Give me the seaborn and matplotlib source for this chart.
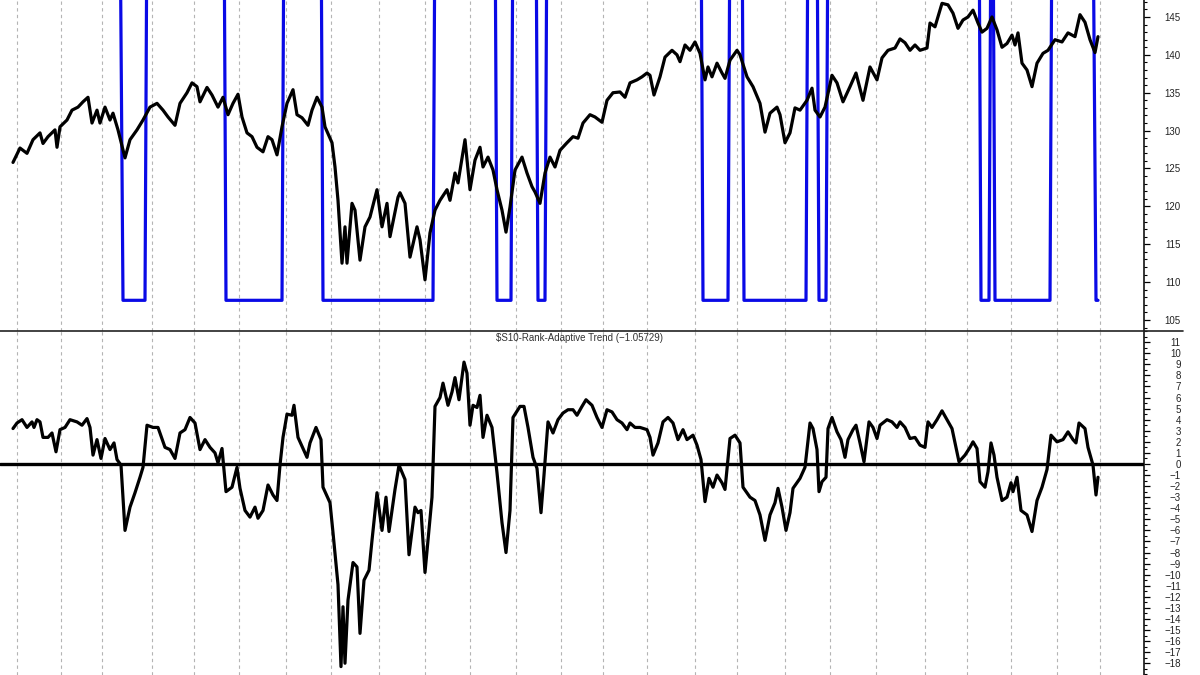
import matplotlib
matplotlib.use("Agg")
import matplotlib.pyplot as plt
from matplotlib.lines import Line2D
from matplotlib.ticker import MultipleLocator, FixedLocator
import seaborn as sns

# bar position along the chart and the price closes (upper pane)
price_bar = [13, 20, 27, 33, 40, 43, 48, 55, 57, 60, 67, 72, 78, 83, 88, 92, 97, 100, 105, 110,
             113, 118, 125, 130, 137, 143, 150, 157, 163, 168, 175, 180, 187, 192, 197, 200, 207, 212, 218, 223,
             228, 233, 238, 242, 247, 252, 257, 263, 268, 272, 277, 282, 287, 293, 297, 302, 308, 312, 317, 322,
             325, 332, 335, 338, 342, 345, 347, 352, 355, 360, 365, 370, 377, 382, 387, 390, 398, 400, 405, 410,
             417, 420, 425, 430, 435, 440, 447, 450, 455, 458, 465, 470, 475, 480, 483, 488, 493, 497, 502, 506,
             510, 515, 522, 527, 532, 535, 540, 545, 550, 555, 560, 567, 573, 578, 583, 590, 595, 602, 607, 613,
             620, 625, 630, 637, 642, 647, 650, 654, 660, 665, 672, 677, 680, 685, 690, 695, 700, 705, 708, 712,
             717, 722, 725, 730, 737, 740, 747, 753, 760, 765, 770, 777, 780, 785, 790, 795, 800, 807, 812, 815,
             820, 825, 832, 837, 843, 850, 856, 863, 870, 877, 882, 888, 895, 900, 905, 910, 915, 920, 927, 930,
             935, 942, 948, 953, 958, 963, 968, 973, 978, 982, 987, 992, 997, 1002, 1007, 1012, 1015, 1018, 1022, 1027,
             1032, 1037, 1043, 1048, 1055, 1062, 1068, 1075, 1080, 1085, 1090, 1095, 1098]
price = [125.8, 127.7, 127.0, 128.8, 129.7, 128.3, 129.2, 130.1, 127.8, 130.5, 131.4, 132.7, 133.1, 133.8, 134.4, 131.0, 132.7, 131.0, 133.1, 131.4,
         132.3, 130.1, 126.4, 128.8, 130.1, 131.4, 133.1, 133.6, 132.7, 131.8, 130.7, 133.6, 135.0, 136.3, 135.8, 133.8, 135.7, 134.7, 133.1, 134.4,
         132.1, 133.6, 134.8, 131.8, 129.7, 129.2, 127.8, 127.2, 129.2, 128.8, 126.8, 130.5, 133.6, 135.4, 132.1, 131.7, 130.7, 132.7, 134.4, 133.1,
         130.5, 128.4, 125.2, 120.8, 112.5, 117.3, 112.5, 120.4, 119.5, 112.9, 117.3, 118.6, 122.2, 117.3, 120.4, 116.0, 121.2, 121.8, 120.4, 113.3,
         117.3, 115.6, 110.3, 116.5, 119.5, 120.8, 122.2, 120.8, 124.4, 123.1, 128.8, 122.2, 126.1, 127.8, 125.2, 126.5, 124.8, 122.2, 119.5, 116.6,
         119.9, 124.8, 126.5, 124.4, 122.6, 121.9, 120.4, 124.4, 126.5, 125.2, 127.4, 128.4, 129.2, 129.0, 131.0, 132.1, 131.8, 131.1, 134.0, 135.0,
         135.1, 134.4, 136.3, 136.7, 137.1, 137.6, 137.3, 134.7, 137.1, 139.7, 140.6, 140.0, 139.1, 141.3, 140.6, 141.7, 140.2, 136.7, 138.4, 137.1,
         138.9, 137.6, 136.9, 139.3, 140.6, 140.0, 137.1, 135.8, 133.6, 129.8, 132.3, 133.1, 132.1, 128.4, 129.7, 133.0, 132.7, 134.0, 135.6, 132.7,
         131.8, 133.1, 137.3, 136.3, 133.8, 135.8, 137.6, 134.0, 138.4, 136.7, 139.6, 140.6, 140.9, 142.1, 141.6, 140.6, 141.3, 140.6, 140.9, 144.2,
         143.7, 146.8, 146.6, 145.5, 143.5, 144.6, 145.0, 145.9, 144.2, 143.0, 143.5, 145.0, 143.3, 141.0, 141.5, 142.6, 141.3, 142.9, 138.9, 138.0,
         135.8, 138.9, 140.2, 140.6, 142.0, 141.7, 142.9, 142.4, 145.3, 144.3, 142.0, 140.3, 142.4]

# trading signal: high (off the top of the pane) = in, 107.6 = out
signal_bar = [12, 120, 123, 145, 147, 224, 226, 282, 284, 321, 323, 433, 435, 495, 497, 511, 513, 536,
              538, 545, 547, 701, 703, 728, 730, 742, 744, 806, 808, 817, 819, 826, 828, 979, 981, 989,
              991, 993, 995, 1050, 1052, 1093, 1096, 1098]
signal = [160, 160, 107.6, 107.6, 160, 160, 107.6, 107.6, 160, 160, 107.6, 107.6, 160, 160, 107.6, 107.6, 160, 160,
          107.6, 107.6, 160, 160, 107.6, 107.6, 160, 160, 107.6, 107.6, 160, 160, 107.6, 107.6, 160, 160, 107.6, 107.6,
          160, 160, 107.6, 107.6, 160, 160, 107.6, 107.6]

# $S10 rank adaptive trend (lower pane)
trend_bar = [13, 17, 22, 27, 32, 34, 37, 40, 43, 48, 52, 56, 60, 65, 70, 77, 82, 87, 90, 93,
             97, 101, 105, 110, 114, 117, 121, 125, 130, 135, 140, 143, 147, 153, 158, 165, 170, 175, 180, 185,
             190, 195, 200, 205, 210, 215, 218, 222, 226, 232, 237, 240, 245, 250, 255, 258, 263, 268, 273, 277,
             280, 283, 287, 292, 294, 298, 303, 307, 310, 316, 321, 323, 330, 333, 338, 341, 343, 345, 348, 353,
             357, 360, 364, 369, 372, 377, 382, 386, 389, 395, 399, 405, 409, 415, 418, 421, 425, 432, 435, 440,
             443, 448, 452, 455, 459, 464, 467, 470, 473, 477, 480, 483, 487, 492, 497, 502, 506, 510, 513, 520,
             524, 528, 533, 537, 541, 544, 548, 553, 558, 563, 568, 573, 577, 582, 586, 592, 597, 602, 607, 612,
             617, 622, 627, 630, 635, 640, 647, 650, 653, 658, 663, 668, 673, 678, 683, 687, 693, 697, 701, 705,
             709, 713, 717, 722, 725, 730, 735, 740, 743, 750, 755, 760, 765, 770, 775, 778, 782, 786, 790, 793,
             800, 805, 810, 813, 817, 819, 822, 826, 828, 832, 837, 841, 845, 848, 853, 856, 860, 864, 869, 873,
             877, 880, 887, 892, 897, 900, 905, 910, 915, 920, 925, 928, 932, 937, 942, 947, 952, 956, 959, 965,
             970, 973, 977, 980, 985, 988, 991, 994, 997, 1002, 1007, 1011, 1013, 1017, 1021, 1027, 1032, 1037, 1042, 1047,
             1051, 1057, 1063, 1068, 1073, 1076, 1079, 1085, 1088, 1093, 1096, 1098]
trend = [3.2, 3.7, 4.0, 3.3, 3.8, 3.3, 4.0, 3.8, 2.4, 2.4, 2.8, 1.1, 3.1, 3.3, 4.0, 3.8, 3.5, 4.1, 3.3, 0.8,
         2.2, 0.5, 2.3, 1.3, 1.9, 0.4, -0.1, -6.0, -3.9, -2.6, -1.2, -0.3, 3.5, 3.3, 3.3, 1.5, 1.3, 0.5, 2.8, 3.1,
         4.2, 3.7, 1.3, 2.2, 1.5, 1.0, 0.1, 1.4, -2.5, -2.1, -0.3, -2.2, -4.2, -4.8, -3.9, -4.9, -4.2, -1.9, -2.8, -3.3,
         -0.1, 2.4, 4.5, 4.4, 5.3, 2.4, 1.4, 0.6, 1.9, 3.3, 2.2, -2.1, -3.5, -6.2, -10.9, -18.3, -12.9, -18.0, -12.3, -8.9,
         -9.3, -15.3, -10.5, -9.6, -6.9, -2.6, -6.0, -3.0, -6.1, -2.3, -0.1, -1.4, -8.2, -3.9, -4.4, -4.2, -9.8, -3.0, 5.2, 6.0,
         7.3, 5.3, 6.5, 7.8, 5.8, 9.2, 8.2, 3.5, 5.3, 5.1, 6.2, 2.4, 4.4, 3.3, -0.8, -5.3, -8.0, -4.2, 4.2, 5.2,
         5.2, 3.3, 0.6, -0.4, -4.4, -1.0, 3.8, 2.8, 4.0, 4.6, 4.9, 4.9, 4.4, 5.2, 5.8, 5.3, 4.2, 3.3, 4.9, 4.7,
         4.0, 3.7, 3.1, 3.7, 3.3, 3.3, 3.1, 2.4, 0.8, 1.9, 3.8, 4.2, 3.7, 2.2, 3.1, 2.2, 2.6, 1.7, 0.4, -3.4,
         -1.3, -2.1, -1.0, -1.7, -2.3, 2.3, 2.6, 1.9, -2.1, -3.0, -3.3, -4.6, -6.9, -4.6, -3.5, -2.2, -3.9, -6.0, -4.4, -2.2,
         -1.3, -0.3, 3.7, 3.2, 1.3, -2.5, -1.6, -1.2, 3.2, 4.2, 2.9, 2.2, 0.6, 2.2, 3.1, 3.5, 1.9, 0.2, 3.8, 3.3,
         2.3, 3.5, 4.0, 3.8, 3.3, 3.8, 3.3, 2.3, 2.4, 1.7, 1.5, 3.8, 3.3, 4.0, 4.8, 4.0, 3.2, 1.5, 0.2, 0.8,
         1.5, 2.0, 1.4, -1.6, -2.1, -0.7, 1.9, 0.8, -1.2, -3.3, -3.0, -1.7, -2.5, -1.2, -4.2, -4.6, -6.1, -3.3, -2.1, -0.5,
         2.6, 2.0, 2.2, 2.9, 2.2, 1.9, 3.7, 3.2, 1.5, -0.1, -2.8, -1.2]

# month boundaries (dotted verticals)
month_bars = [17, 61, 102, 152, 194, 239, 286, 331, 379, 425, 470, 516, 561, 603, 647, 695,
              737, 785, 830, 876, 925, 967, 1011, 1057, 1100]

# labelled levels on the indicator scale
trend_ticks = list(range(-18, 12))

title = "\\$S10-Rank-Adaptive Trend (\u22121.05729)"

sns.set_style("white")
plt.rcParams['font.family'] = ['Liberation Sans', 'DejaVu Sans']

fig = plt.figure(figsize=(12, 6.75), dpi=100)
split = 1 - 331 / 675
right = 1144 / 1200
ax1 = fig.add_axes([0, split, right, 1 - split])
ax2 = fig.add_axes([0, 0, right, split])

for ax in (ax1, ax2):
    for m in month_bars:
        ax.axvline(m, color='#b4b4b4', lw=0.8, ls=(0, (3, 3)), zorder=0)

sns.lineplot(x=signal_bar, y=signal, ax=ax1, color='#0a0ae6', lw=2.3)
sns.lineplot(x=price_bar, y=price, ax=ax1, color='black', lw=2.3)

ax2.axhline(0, color='black', lw=2.4, zorder=1)
sns.lineplot(x=trend_bar, y=trend, ax=ax2, color='black', lw=2.3)

ax1.set_ylim(103.55, 147.24)
ax1.yaxis.set_major_locator(MultipleLocator(5))
ax1.yaxis.set_minor_locator(MultipleLocator(1))
ax2.set_ylim(-19.06, 12.01)
ax2.yaxis.set_major_locator(FixedLocator(trend_ticks))
ax2.yaxis.set_minor_locator(MultipleLocator(0.5))

for ax in (ax1, ax2):
    ax.set_xlim(0, 1144)
    ax.set_xticks([])
    ax.set_xlabel('')
    ax.set_ylabel('')
    for s in ('left', 'top', 'bottom'):
        ax.spines[s].set_visible(False)
    ax.spines['right'].set_color('black')
    ax.spines['right'].set_linewidth(1.1)
    ax.yaxis.tick_right()
    ax.tick_params(axis='y', which='major', direction='out', length=4.5, width=0.9,
                   labelsize=7, pad=22, colors='black', labelcolor='#222222')
    ax.tick_params(axis='y', which='minor', direction='out', length=2.5, width=0.8, colors='black')
    plt.setp(ax.get_yticklabels(), ha='right')

ax2.text(579, 1 - 7 / 344, title, transform=ax2.get_xaxis_transform(),
         ha='center', va='center', fontsize=7, color='#333333')

# pane separator
fig.add_artist(Line2D([0, 1183 / 1200], [split, split], color='#222222', lw=1.2))

fig.savefig('out.png', dpi=100)
